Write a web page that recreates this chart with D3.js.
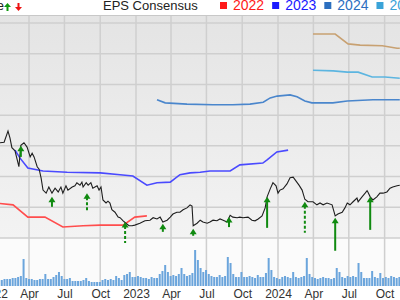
<!DOCTYPE html>
<html>
<head>
<meta charset="utf-8">
<script src="https://cdn.jsdelivr.net/npm/d3@7"></script>
<style>
body { margin: 0; background: #fff; }
svg { display: block; font-family: "Liberation Sans", Arial, sans-serif; }
</style>
</head>
<body>
<div class="chart"></div>
<script>
// weekly-ish closing price
var price = [
 ["2022-01-01",25.3],["2022-01-09",25.6],["2022-01-16",25.5],["2022-01-27",25.6],["2022-02-06",27.4],
 ["2022-02-11",26.3],["2022-02-16",24.7],["2022-02-24",24.2],["2022-03-06",21.6],["2022-03-11",25.1],
 ["2022-03-19",25.5],["2022-03-27",24.8],["2022-04-04",23.2],["2022-04-09",23.8],["2022-04-14",23.2],
 ["2022-04-22",21.6],["2022-04-27",21.2],["2022-05-02",19.8],["2022-05-07",17.8],["2022-05-15",17.3],
 ["2022-05-22",18.3],["2022-05-30",17.3],["2022-06-07",18.1],["2022-06-15",17.5],["2022-06-22",18.3],
 ["2022-06-27",17.3],["2022-07-05",18.5],["2022-07-10",17.8],["2022-07-21",18.3],["2022-07-28",18.5],
 ["2022-08-02",19.0],["2022-08-10",18.6],["2022-08-15",19.1],["2022-08-18",18.3],["2022-08-26",19.0],
 ["2022-08-31",18.6],["2022-09-07",19.0],["2022-09-12",18.1],["2022-09-23",18.5],["2022-09-28",17.8],
 ["2022-10-03",18.3],["2022-10-08",16.2],["2022-10-16",15.7],["2022-10-21",16.0],["2022-10-26",15.7],
 ["2022-10-31",14.6],["2022-11-08",14.2],["2022-11-16",13.4],["2022-11-21",13.3],["2022-11-29",12.8],
 ["2022-12-06",12.4],["2022-12-14",12.0],["2022-12-22",12.0],["2022-12-29",12.1],["2023-01-11",12.4],
 ["2023-01-24",12.8],["2023-02-06",12.9],["2023-02-14",13.3],["2023-02-24",13.1],["2023-03-04",13.4],
 ["2023-03-11",12.6],["2023-03-22",12.9],["2023-03-30",13.4],["2023-04-06",13.9],["2023-04-16",14.2],
 ["2023-04-24",14.2],["2023-05-02",14.6],["2023-05-12",14.9],["2023-05-20",15.4],["2023-05-25",15.2],
 ["2023-05-28",12.0],["2023-06-07",12.4],["2023-06-15",12.9],["2023-06-22",12.6],["2023-07-03",12.4],
 ["2023-07-10",12.6],["2023-07-18",12.9],["2023-07-28",12.8],["2023-08-05",13.1],["2023-08-13",12.9],
 ["2023-08-23",12.6],["2023-08-31",13.7],["2023-09-07",13.4],["2023-09-18",13.3],["2023-09-25",13.4],
 ["2023-10-03",13.3],["2023-10-16",13.4],["2023-10-26",12.9],["2023-11-03",12.8],["2023-11-11",13.1],
 ["2023-11-21",13.6],["2023-11-29",14.9],["2023-12-04",16.7],["2023-12-12",18.0],["2023-12-19",19.0],
 ["2023-12-27",18.5],["2024-01-01",17.3],["2024-01-06",17.8],["2024-01-14",18.0],["2024-01-24",18.8],
 ["2024-02-01",19.8],["2024-02-09",19.9],["2024-02-16",19.3],["2024-02-24",18.6],["2024-03-03",17.8],
 ["2024-03-10",16.3],["2024-03-18",15.9],["2024-03-31",15.9],["2024-04-10",15.4],["2024-04-18",15.7],
 ["2024-04-26",15.4],["2024-05-06",15.7],["2024-05-19",15.4],["2024-05-27",13.6],["2024-06-03",13.9],
 ["2024-06-14",14.2],["2024-06-21",14.9],["2024-06-27",15.7],["2024-07-04",15.4],["2024-07-12",15.9],
 ["2024-07-22",16.5],["2024-07-25",15.9],["2024-08-04",16.7],["2024-08-12",17.3],["2024-08-17",17.7],
 ["2024-08-19",17.5],["2024-08-25",16.7],["2024-09-01",16.2],["2024-09-11",16.7],["2024-09-19",17.3],
 ["2024-09-27",17.3],["2024-10-07",17.5],["2024-10-15",18.1],["2024-10-22",18.3],["2024-11-02",18.5],
 ["2024-11-09",18.6]
];

// EPS consensus by fiscal year
var eps2022 = [["2022-01-01",0.57],["2022-02-19",0.54],["2022-03-29",0.34],["2022-05-12",0.34],["2022-06-27",0.18],
 ["2022-08-18",0.20],["2022-10-01",0.21],["2022-11-29",0.21],["2022-12-29",0.34],["2023-01-29",0.36]];
var eps2023 = [["2022-02-24",1.43],["2022-03-09",1.30],["2022-03-29",1.14],["2022-05-07",1.09],["2022-07-08",1.07],
 ["2022-10-01",1.06],["2022-11-21",1.03],["2022-12-24",1.01],["2023-01-29",0.86],["2023-02-24",0.90],
 ["2023-03-30",0.91],["2023-04-24",1.03],["2023-05-20",1.06],["2023-06-15",1.07],["2023-07-10",1.09],
 ["2023-08-31",1.09],["2023-09-25",1.19],["2023-11-23",1.22],["2023-12-04",1.27],["2023-12-29",1.40],
 ["2024-01-27",1.43]];
var eps2024 = [["2023-02-24",2.25],["2023-03-17",2.20],["2023-05-12",2.18],["2023-07-18",2.17],["2023-09-07",2.17],
 ["2023-10-21",2.18],["2023-11-24",2.21],["2023-12-12",2.28],["2023-12-30",2.31],["2024-02-01",2.33],
 ["2024-02-19",2.30],["2024-03-10",2.23],["2024-03-28",2.20],["2024-05-21",2.20],["2024-06-27",2.23],
 ["2024-09-01",2.25],["2024-11-09",2.25]];
var eps2025 = [["2024-03-31",2.73],["2024-05-22",2.72],["2024-06-27",2.70],["2024-07-25",2.70],["2024-08-30",2.62],
 ["2024-10-02",2.62],["2024-11-09",2.60]];
var eps2026 = [["2024-03-31",3.32],["2024-05-27",3.32],["2024-06-29",3.16],["2024-07-30",3.14],["2024-09-25",3.13],
 ["2024-11-02",3.09],["2024-11-09",3.09]];

// EPS surprises: report date, price at report, surprise %, dashed marker
var surpriseDates = ["2022-03-11","2022-05-30","2022-08-28","2022-12-04","2023-03-11","2023-05-28",
 "2023-08-28","2023-12-04","2024-03-10","2024-05-27","2024-08-25"];
var surprisePrice = [25.0,16.7,17.3,12.6,12.3,11.5,13.4,16.7,15.9,13.3,16.7];
var surprisePct = [11.5,10.4,19.8,21.9,8.3,7.3,10.4,32.3,32.3,34.4,34.4];
var surpriseDashed = [false,false,true,true,false,false,false,false,true,false,false];

// weekly volume (millions), first week ending 2022-01-07
var volumeStart = "2022-01-07";
var volume = [1.8,1.8,1.8,2.1,2.1,2.1,2.4,2.4,2.7,3.0, 8.1,2.4,2.1,2.1,1.8,1.8,2.1,2.1,3.6,2.1,
 2.1,2.7,3.3,4.2,3.0,2.1,2.1,2.4,1.5,1.5, 1.5,1.5,1.8,2.4,1.5,1.2,1.2,1.2,1.2,1.8,
 2.1,1.8,2.1,1.8,3.0,2.4,1.8,3.3,3.6,4.2, 2.7,2.7,3.0,2.7,2.4,2.4,2.1,2.7,2.4,2.4,
 3.6,4.5,6.3,4.2,3.0,3.3,3.0,3.6,5.4,3.6, 3.0,3.3,3.9,10.8,7.8,5.4,
 4.2,4.8,3.6,3.0,2.7,2.7,3.3,2.7,3.0,8.7, 6.9,3.6,2.7,2.7,4.2,2.7,2.7,3.0,2.7,2.4,
 3.3,2.7,2.7,3.9,8.4,4.8,2.7,2.4,2.1,2.7, 3.0,2.7,2.4,4.2,2.7,2.4,2.7,3.0,8.4,3.6,
 2.7,2.4,2.1,2.4,2.7,2.4,2.4,2.1,2.4,5.4, 4.2,2.7,2.4,3.0,2.7,3.0,2.7,6.9,4.2,2.4,
 2.4,2.4,4.5,2.7,2.4,3.9,2.4,2.7,2.4,3.0, 2.7,2.4,2.7];

var legendYears = ["2022","2023","2024","2025"];

var WIDTH = 400, HEIGHT = 300;
var TOP = 16, PRICE_BOTTOM = 238, VOL_BOTTOM = 286;
var parse = d3.timeParse("%Y-%m-%d");

var yearColors = {"2022": "#ff1a1a", "2023": "#1a1aff", "2024": "#2c6fbf", "2025": "#3aa3d8", "2026": "#c49a68"};
var lineColors = {"2022": "#ff4d4d", "2023": "#4a4aff", "2024": "#4a86cc", "2025": "#5cb5e0", "2026": "#c8a172"};

var toPoints = function(arr) {
	return arr.map(function(d) { return {date: parse(d[0]), v: d[1]}; });
};

var x = d3.scaleTime()
	.domain([parse("2022-01-01"), parse("2024-01-01")])
	.range([-6, 278]);
var yPrice = d3.scaleLinear().domain([10, 45]).range([PRICE_BOTTOM, 23]);
var yEps = d3.scaleLinear().domain([0, 3.5]).range([PRICE_BOTTOM, 23]);
var yVol = d3.scaleLinear().domain([0, 13.8]).range([VOL_BOTTOM, 240]);
var arrowLen = d3.scaleLinear().domain([0, 50]).range([0, 48]);

var svg = d3.select('.chart').append('svg')
	.attr('width', WIDTH)
	.attr('height', HEIGHT);

var defs = svg.append('defs');
var grad = defs.append('linearGradient').attr('id', 'bg')
	.attr('x1', 0).attr('y1', 0).attr('x2', 0).attr('y2', 1);
grad.append('stop').attr('offset', '0%').attr('stop-color', '#e4e4e4');
grad.append('stop').attr('offset', '100%').attr('stop-color', '#f3f3f3');
defs.append('clipPath').attr('id', 'plot')
	.append('rect').attr('x', 0).attr('y', TOP).attr('width', WIDTH).attr('height', VOL_BOTTOM - TOP);

// panels
svg.append('rect').attr('x', 0).attr('y', TOP).attr('width', WIDTH).attr('height', PRICE_BOTTOM - TOP)
	.attr('fill', 'url(#bg)');
svg.append('rect').attr('x', 0).attr('y', PRICE_BOTTOM).attr('width', WIDTH).attr('height', VOL_BOTTOM - PRICE_BOTTOM)
	.attr('fill', '#fbfbfb');

// grid
var quarterTicks = d3.timeMonth.every(3).range(parse("2021-10-01"), parse("2025-01-02"));
var grid = svg.append('g').attr('stroke', '#cfcfcf').attr('stroke-width', 1.5);
grid.selectAll('line.v').data(quarterTicks).enter().append('line')
	.attr('class', 'v')
	.attr('x1', function(d) { return x(d); }).attr('x2', function(d) { return x(d); })
	.attr('y1', TOP).attr('y2', VOL_BOTTOM);
grid.selectAll('line.h').data(yPrice.ticks(7)).enter().append('line')
	.attr('class', 'h')
	.attr('x1', 0).attr('x2', WIDTH)
	.attr('y1', function(d) { return yPrice(d); }).attr('y2', function(d) { return yPrice(d); });
svg.append('line').attr('x1', 0).attr('x2', WIDTH).attr('y1', TOP - 0.5).attr('y2', TOP - 0.5)
	.attr('stroke', '#c8c8c8');

var plot = svg.append('g').attr('clip-path', 'url(#plot)');

// volume
var vStart = parse(volumeStart);
plot.append('g').selectAll('rect').data(volume).enter().append('rect')
	.attr('x', function(d, i) { return x(d3.timeDay.offset(vStart, 7 * i)) - 1; })
	.attr('y', function(d) { return yVol(d); })
	.attr('width', 2)
	.attr('height', function(d) { return VOL_BOTTOM - yVol(d); })
	.attr('fill', '#6ba5dc');

// consensus lines
var epsLine = d3.line()
	.x(function(d) { return x(d.date); })
	.y(function(d) { return yEps(d.v); });
var series = [["2022", eps2022], ["2023", eps2023], ["2024", eps2024], ["2025", eps2025], ["2026", eps2026]];
series.forEach(function(s) {
	plot.append('path')
		.datum(toPoints(s[1]))
		.attr('d', epsLine)
		.attr('fill', 'none')
		.attr('stroke', lineColors[s[0]])
		.attr('stroke-width', 1.6);
});

// price
var priceLine = d3.line()
	.x(function(d) { return x(d.date); })
	.y(function(d) { return yPrice(d.v); });
plot.append('path')
	.datum(toPoints(price))
	.attr('d', priceLine)
	.attr('fill', 'none')
	.attr('stroke', '#1e1e1e')
	.attr('stroke-width', 1.1);

// surprise arrows
var arrows = plot.append('g');
surpriseDates.forEach(function(d, i) {
	var ax = x(parse(d)), top = yPrice(surprisePrice[i]), len = arrowLen(surprisePct[i]);
	arrows.append('line')
		.attr('x1', ax).attr('x2', ax)
		.attr('y1', top + 4).attr('y2', top + len)
		.attr('stroke', '#108a10').attr('stroke-width', 2)
		.attr('stroke-dasharray', surpriseDashed[i] ? '3,2' : null);
	arrows.append('path')
		.attr('d', 'M' + ax + ',' + top + 'L' + (ax + 3.5) + ',' + (top + 5.5) + 'L' + (ax - 3.5) + ',' + (top + 5.5) + 'Z')
		.attr('fill', '#108a10');
});

// x axis
var xAxis = d3.axisBottom(x)
	.tickValues(quarterTicks)
	.tickSize(0)
	.tickPadding(3)
	.tickFormat(function(d) { return d.getMonth() === 0 ? d3.timeFormat('%Y')(d) : d3.timeFormat('%b')(d); });
var axisG = svg.append('g').attr('transform', 'translate(0,' + VOL_BOTTOM + ')').call(xAxis);
axisG.select('.domain').remove();
axisG.selectAll('text').attr('font-size', 12).attr('fill', '#333')
	.attr('font-family', '"Liberation Sans", Arial, sans-serif');

// header
var head = svg.append('g');
head.append('text').attr('x', 4).attr('y', 10).attr('text-anchor', 'end')
	.attr('font-size', 13).attr('fill', '#222').text('Surprise');
head.append('path').attr('d', 'M7.5,3L11,7L8.5,7L8.5,11L6.5,11L6.5,7L4,7Z').attr('fill', '#119911');
head.append('path').attr('d', 'M18.5,11L22,7L19.5,7L19.5,3L17.5,3L17.5,7L15,7Z').attr('fill', '#ee1111');
head.append('text').attr('x', 103).attr('y', 10)
	.attr('font-size', 13).attr('fill', '#222').text('EPS Consensus');

var lx = 220;
legendYears.forEach(function(yr) {
	head.append('rect').attr('x', lx).attr('y', 2).attr('width', 7).attr('height', 7)
		.attr('fill', yearColors[yr]);
	var t = head.append('text').attr('x', lx + 13).attr('y', 10)
		.attr('font-size', 14).attr('fill', yearColors[yr]).text(yr);
	lx += 13 + t.node().getComputedTextLength() + 8;
});
</script>
</body>
</html>
